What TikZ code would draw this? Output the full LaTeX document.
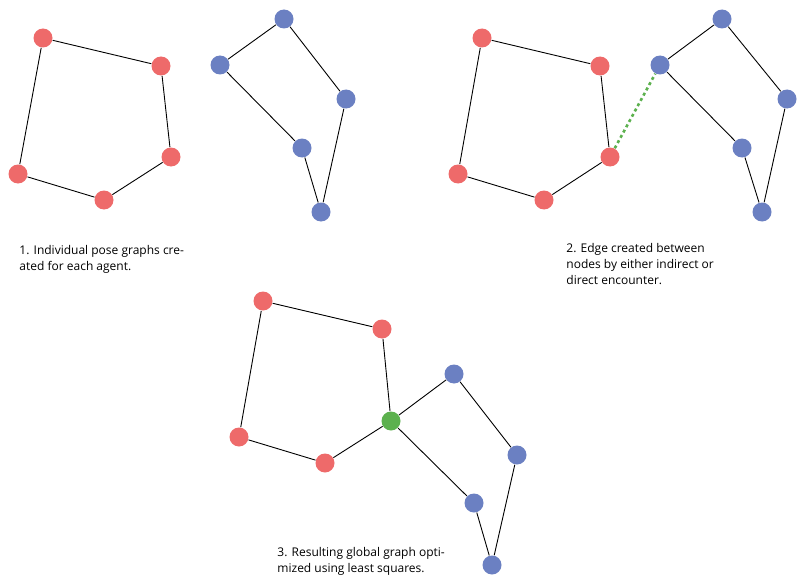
\documentclass[tikz,border=0pt]{standalone}
\usepackage{fontspec}
\setmainfont{Open Sans}
\usepackage{xcolor}
\definecolor{agentred}{HTML}{EE6A6A}
\definecolor{agentblue}{HTML}{6B80C2}
\definecolor{linkgreen}{HTML}{5CB14E}
\tikzset{
  redpose/.style  = {circle, fill=agentred, minimum size=19pt, inner sep=0pt},
  bluepose/.style = {circle, fill=agentblue, minimum size=19pt, inner sep=0pt},
  joinpose/.style = {circle, fill=linkgreen, minimum size=19pt, inner sep=0pt},
  capt/.style     = {anchor=north west, align=left, inner sep=0pt,
                     font=\fontsize{12}{16}\selectfont},
}

\begin{document}
\begin{tikzpicture}[x=1pt, y=-1pt, line width=0.9pt]
\useasboundingbox (0,0) rectangle (801,586);

% ── PANEL 1: two separate pose graphs ─────────────────────────
\foreach \n/\x/\y in {1/43/38, 2/161/66, 3/171/157, 4/104/200, 5/18/174}
  \node[redpose] (ra\n) at (\x,\y) {};
\foreach \n/\x/\y in {1/284/19, 2/220/65, 3/302/148, 4/321/212, 5/346/99}
  \node[bluepose] (ba\n) at (\x,\y) {};
\draw (ra1) -- (ra2) -- (ra3) -- (ra4) -- (ra5) -- (ra1);
\draw (ba1) -- (ba2) -- (ba3) -- (ba4) -- (ba5) -- (ba1);
\node[capt] (capa) at (19,245) {1. Individual pose graphs cre-\\ated for each agent.};

% ── PANEL 2: loop closure between the agents ──────────────────
\foreach \n/\x/\y in {1/482/38, 2/600/66, 3/610/157, 4/544/200, 5/458/174}
  \node[redpose] (rb\n) at (\x,\y) {};
\foreach \n/\x/\y in {1/722/19, 2/660/65, 3/742/148, 4/762/212, 5/787/99}
  \node[bluepose] (bb\n) at (\x,\y) {};
\draw (rb1) -- (rb2) -- (rb3) -- (rb4) -- (rb5) -- (rb1);
\draw (bb1) -- (bb2) -- (bb3) -- (bb4) -- (bb5) -- (bb1);
% encounter edge (dotted green)
\draw[linkgreen, line width=2.6pt, dash pattern=on 3pt off 3pt] (rb3) -- (bb2);
\node[capt] (capb) at (566,243) {2. Edge created between\\nodes by either indirect or\\direct encounter.};

% ── PANEL 3: merged graph after optimisation ──────────────────
\foreach \n/\x/\y in {1/263/301, 2/382/329, 4/325/463, 5/239/437}
  \node[redpose] (rc\n) at (\x,\y) {};
\node[joinpose] (gc) at (391,421) {};
\foreach \n/\x/\y in {1/454/374, 3/474/503, 4/492/565, 5/517/455}
  \node[bluepose] (bc\n) at (\x,\y) {};
\draw (rc1) -- (rc2) -- (gc) -- (rc4) -- (rc5) -- (rc1);
\draw (gc) -- (bc1) -- (bc5) -- (bc4) -- (bc3) -- (gc);
\node[capt] (capc) at (277,547) {3. Resulting global graph opti-\\mized using least squares.};

\end{tikzpicture}
\end{document}
